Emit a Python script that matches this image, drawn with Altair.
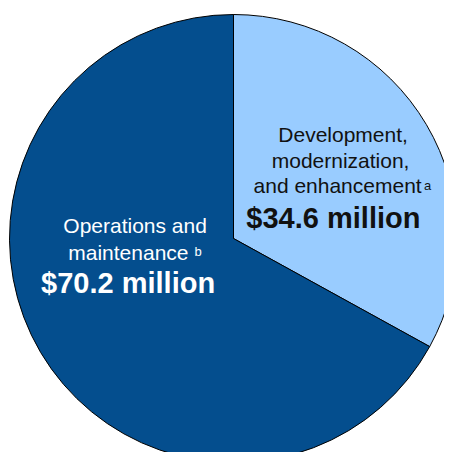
import altair as alt
import pandas as pd

categories = ["Development, modernization, and enhancement", "Operations and maintenance"]
values = [34.6, 70.2]
line1 = ["Development,", "Operations and"]
line2 = ["modernization,", "maintenance"]
line3 = ["and enhancement", ""]
amounts = ["$34.6 million", "$70.2 million"]
notes = ["a", "b"]
colors = ["#99ccff", "#044e8e"]

df = pd.DataFrame({
    "category": categories,
    "value": values,
    "order": [0, 1],
    "line1": line1,
    "line2": line2,
    "line3": line3,
    "amount": amounts,
    "note": notes,
})

CX, CY = 225.5, 230.5
FONT = "Liberation Sans"

base = alt.Chart(df).encode(
    theta=alt.Theta("value:Q", stack=True),
    order=alt.Order("order:Q"),
    x=alt.value(CX),
    y=alt.value(CY),
)

pie = base.mark_arc(radius=224, stroke="#000000", strokeWidth=1).encode(
    color=alt.Color("category:N", scale=alt.Scale(domain=categories, range=colors), legend=None)
)


def label(field, idx, radius, dx, dy, size, bold=False, align="center"):
    color = "#111111" if idx == 0 else "#ffffff"
    return base.transform_calculate(
        t=f"datum.order == {idx} ? datum.{field} : ''"
    ).mark_text(
        radius=radius, dx=dx, dy=dy, fontSize=size, font=FONT,
        fontWeight="bold" if bold else "normal", align=align,
        baseline="alphabetic", color=color,
    ).encode(text="t:N")


R0, R1 = 126, 110
layers = [
    pie,
    label("line1", 0, R0, 1.1, -32.3, 21),
    label("line2", 0, R0, -1.4, -6.3, 21),
    label("line3", 0, R0, -4.4, 18.7, 21),
    label("note", 0, R0, 82.1, 15.6, 13, align="left"),
    label("amount", 0, R0, -8.6, 53.7, 29, bold=True),
    label("line1", 1, R1, -3.7, -61.1, 21),
    label("line2", 1, R1, -10.4, -34.4, 21),
    label("note", 1, R1, 55.8, -38.7, 13, align="left"),
    label("amount", 1, R1, -10.7, -1.1, 29, bold=True),
]

chart = alt.layer(*layers).properties(
    width=436, height=444, padding=0, autosize="none"
).configure_view(stroke=None)

chart.save("out.html", embed_options={"renderer": "svg", "actions": False})
